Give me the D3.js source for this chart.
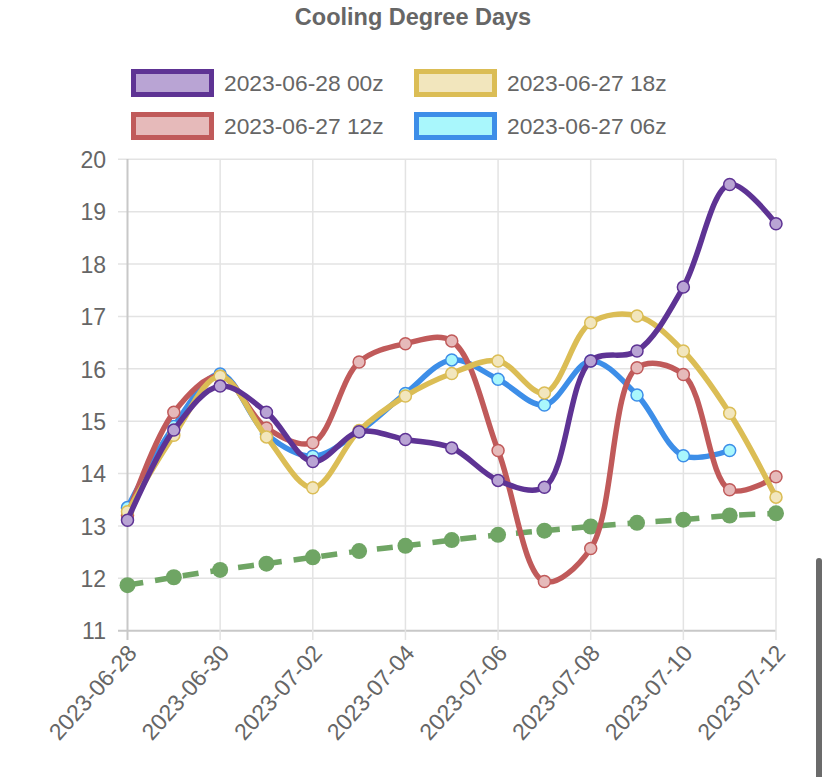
<!DOCTYPE html>
<html>
<head>
<meta charset="utf-8">
<script src="https://cdn.jsdelivr.net/npm/d3@7"></script>
<style>
  html, body { margin: 0; padding: 0; background: #fff; }
  svg { display: block; font-family: "Liberation Sans", Arial, sans-serif; }
</style>
</head>
<body>
<svg id="chart" width="828" height="777"></svg>
<script>
// ---- data ----
const dates = ["2023-06-28","2023-06-29","2023-06-30","2023-07-01","2023-07-02","2023-07-03","2023-07-04","2023-07-05","2023-07-06","2023-07-07","2023-07-08","2023-07-09","2023-07-10","2023-07-11","2023-07-12"];
const tickLabels = ["2023-06-28","2023-06-30","2023-07-02","2023-07-04","2023-07-06","2023-07-08","2023-07-10","2023-07-12"];
const yTicks = [11,12,13,14,15,16,17,18,19,20];
const run00z = [13.11,14.83,15.67,15.17,14.23,14.80,14.65,14.49,13.87,13.74,16.15,16.34,17.56,19.52,18.77];
const run18z = [13.27,14.73,15.86,14.70,13.73,14.82,15.48,15.91,16.15,15.54,16.88,17.01,16.34,15.15,13.55];
const run12z = [13.20,15.17,15.86,14.87,14.59,16.13,16.48,16.53,14.44,11.94,12.57,16.02,15.89,13.69,13.94];
const run06z = [13.35,14.90,15.90,14.75,14.33,14.80,15.53,16.17,15.80,15.31,16.15,15.50,14.34,14.44];
const normal = [11.87,12.02,12.16,12.28,12.40,12.52,12.62,12.73,12.83,12.91,12.99,13.06,13.12,13.20,13.24];
const seriesNames = ["2023-06-28 00z","2023-06-27 18z","2023-06-27 12z","2023-06-27 06z"];

const parse = d3.timeParse("%Y-%m-%d");
const fmt = d3.timeFormat("%Y-%m-%d");

const series = [
  {name: seriesNames[0], values: run00z, stroke: "#5e3394", fill: "#b9a4d4"},
  {name: seriesNames[1], values: run18z, stroke: "#dbbd55", fill: "#f2e6bd"},
  {name: seriesNames[2], values: run12z, stroke: "#c05a5a", fill: "#e6baba"},
  {name: seriesNames[3], values: run06z, stroke: "#3d8ee8", fill: "#a9f7fc"}
];

const svg = d3.select("#chart");
const x = d3.scaleTime().domain([parse(dates[0]), parse(dates[dates.length-1])]).range([127.5, 776]);
const y = d3.scaleLinear().domain([11, 20]).range([630.7, 159.3]);

const textCol = "#666";

// title
svg.append("text").attr("x", 413).attr("y", 25).attr("text-anchor", "middle")
  .attr("font-size", 23.5).attr("font-weight", "bold").attr("fill", textCol)
  .text("Cooling Degree Days");

// legend
const legendPos = [[131, 69], [414, 69], [131, 112], [414, 112]];
[0, 1, 2, 3].forEach((si, i) => {
  const s = series[si];
  const [lx, ly] = legendPos[i];
  const g = svg.append("g").attr("transform", `translate(${lx},${ly})`);
  g.append("rect").attr("x", 2.5).attr("y", 2.5).attr("width", 78).attr("height", 23)
    .attr("fill", s.fill).attr("stroke", s.stroke).attr("stroke-width", 5);
  g.append("text").attr("x", 93).attr("y", 22).attr("font-size", 22.8).attr("fill", textCol).text(s.name);
});

// grid
const grid = svg.append("g");
yTicks.forEach(t => {
  grid.append("line").attr("x1", 118).attr("x2", 776).attr("y1", y(t)).attr("y2", y(t))
    .attr("stroke", t === 11 ? "#c8c8c8" : "#e3e3e3").attr("stroke-width", t === 11 ? 2 : 1.5);
});
tickLabels.forEach((t, i) => {
  grid.append("line").attr("x1", x(parse(t))).attr("x2", x(parse(t))).attr("y1", 159).attr("y2", 640)
    .attr("stroke", i === 0 ? "#c8c8c8" : "#e3e3e3").attr("stroke-width", i === 0 ? 2 : 1.5);
});

// y axis
const yAxis = d3.axisLeft(y).tickValues(yTicks).tickSize(0).tickPadding(0);
const yg = svg.append("g").attr("transform", "translate(106,0)").call(yAxis);
yg.select(".domain").remove();
yg.selectAll("text").attr("font-size", 23).attr("fill", textCol).attr("font-family", "Liberation Sans, Arial, sans-serif").attr("dy", "0.36em");

// x axis
const xAxis = d3.axisBottom(x).tickValues(tickLabels.map(parse)).tickFormat(fmt).tickSize(0);
const xg = svg.append("g").attr("transform", "translate(0,640)").call(xAxis);
xg.select(".domain").remove();
xg.selectAll("text").attr("font-size", 23).attr("fill", textCol).attr("font-family", "Liberation Sans, Arial, sans-serif")
  .attr("text-anchor", "end").attr("dy", 0).attr("y", 0)
  .attr("transform", "translate(10,14) rotate(-48)");

// lines
const line = d3.line().x((d, i) => x(parse(dates[i]))).y(d => y(d)).curve(d3.curveCatmullRom.alpha(0.5));

// normal (green dashed)
svg.append("path").datum(normal).attr("d", line).attr("fill", "none")
  .attr("stroke", "#6fa564").attr("stroke-width", 5.5).attr("stroke-dasharray", "16,12");
svg.append("g").selectAll("circle").data(normal).join("circle")
  .attr("cx", (d, i) => x(parse(dates[i]))).attr("cy", d => y(d)).attr("r", 8)
  .attr("fill", "#6fa564");

// forecast series, drawn back to front
[3, 2, 1, 0].forEach(si => {
  const s = series[si];
  const g = svg.append("g");
  g.append("path").datum(s.values).attr("d", line).attr("fill", "none")
    .attr("stroke", s.stroke).attr("stroke-width", 5.5);
  g.selectAll("circle").data(s.values).join("circle")
    .attr("cx", (d, i) => x(parse(dates[i]))).attr("cy", d => y(d)).attr("r", 6)
    .attr("fill", s.fill).attr("stroke", s.stroke).attr("stroke-width", 1.5);
});

// scrollbar artifact
svg.append("rect").attr("x", 816).attr("y", 558).attr("width", 6).attr("height", 230).attr("rx", 3).attr("fill", "#6b6b6b");
</script>
</body>
</html>
